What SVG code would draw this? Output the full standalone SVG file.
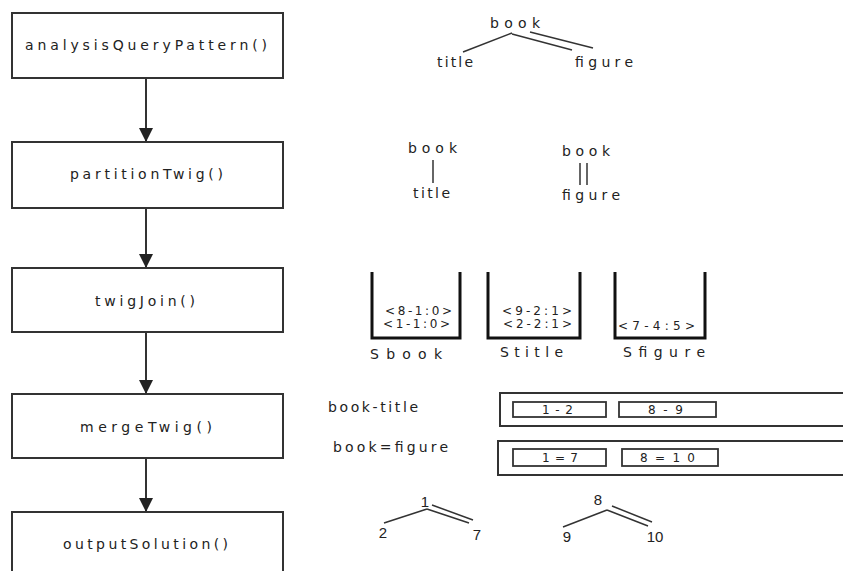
<svg xmlns="http://www.w3.org/2000/svg" width="843" height="571" viewBox="0 0 843 571">
<style>
.box{fill:#fff;stroke:#333;stroke-width:2}
.t{font-family:"DejaVu Sans","Liberation Sans",Arial,sans-serif;font-size:14px;fill:#222;text-anchor:start}
.n{font-family:"Liberation Sans",Arial,sans-serif;font-size:15px;fill:#222;text-anchor:middle}
.s{font-family:"DejaVu Sans","Liberation Sans",Arial,sans-serif;font-size:12px;fill:#222;text-anchor:start}
.ln{stroke:#333;stroke-width:1.5;fill:none}
.stk{stroke:#111;stroke-width:3;fill:none}
.conn{stroke:#333;stroke-width:2;fill:none}
.list{fill:none;stroke:#333;stroke-width:2}
.cell{fill:#fff;stroke:#333;stroke-width:1.8}
</style>
<defs>
<marker id="arr" markerUnits="userSpaceOnUse" markerWidth="16" markerHeight="16" viewBox="0 0 16 16" refX="15" refY="8" orient="auto">
<path d="M1,1 L15,8 L1,15 Z" fill="#222"/>
</marker>
</defs>
<rect width="843" height="571" fill="#fff"/>
<g id="connectors">
<line class="conn" x1="146" y1="78" x2="146" y2="142" marker-end="url(#arr)"/>
<line class="conn" x1="146" y1="208" x2="146" y2="268" marker-end="url(#arr)"/>
<line class="conn" x1="146" y1="332" x2="146" y2="394" marker-end="url(#arr)"/>
<line class="conn" x1="146" y1="458" x2="146" y2="512" marker-end="url(#arr)"/>
</g>
<g id="n1"><rect class="box" x="12" y="13" width="271" height="65"/><text class="t" x="25" y="50" textLength="242" lengthAdjust="spacing">analysisQueryPattern()</text></g>
<g id="n2"><rect class="box" x="12" y="142" width="271" height="66"/><text class="t" x="70" y="179" textLength="153" lengthAdjust="spacing">partitionTwig()</text></g>
<g id="n3"><rect class="box" x="12" y="268" width="271" height="64"/><text class="t" x="95" y="306" textLength="100" lengthAdjust="spacing">twigJoin()</text></g>
<g id="n4"><rect class="box" x="12" y="394" width="271" height="64"/><text class="t" x="80" y="432" textLength="132" lengthAdjust="spacing">mergeTwig()</text></g>
<g id="n5"><rect class="box" x="12" y="512" width="271" height="80"/><text class="t" x="63" y="549" textLength="165" lengthAdjust="spacing">outputSolution()</text></g>

<g id="query-tree">
<text class="t" x="490" y="28" textLength="50" lengthAdjust="spacing">book</text>
<text class="t" x="437" y="67" textLength="36" lengthAdjust="spacing">title</text>
<text class="t" x="575" y="67" textLength="58" lengthAdjust="spacing">figure</text>
<line class="ln" x1="512" y1="33" x2="463" y2="52"/>
<line class="ln" x1="512" y1="34" x2="572" y2="50"/>
<line class="ln" x1="530" y1="32" x2="593" y2="48"/>
</g>

<g id="partition">
<text class="t" x="408" y="153" textLength="49" lengthAdjust="spacing">book</text>
<line class="ln" x1="433" y1="160" x2="433" y2="183"/>
<text class="t" x="413" y="198" textLength="37" lengthAdjust="spacing">title</text>
<text class="t" x="562" y="156" textLength="48" lengthAdjust="spacing">book</text>
<line class="ln" x1="580" y1="163" x2="580" y2="185"/>
<line class="ln" x1="587" y1="163" x2="587" y2="185"/>
<text class="t" x="562" y="200" textLength="58" lengthAdjust="spacing">figure</text>
</g>

<g id="stacks">
<path class="stk" d="M372,272 V338 H460 V272"/>
<path class="stk" d="M488,272 V338 H580 V272"/>
<path class="stk" d="M615,272 V338 H705 V272"/>
<text class="s" x="385" y="315" textLength="67" lengthAdjust="spacing">&lt;8-1:0&gt;</text>
<text class="s" x="383" y="328" textLength="67" lengthAdjust="spacing">&lt;1-1:0&gt;</text>
<text class="s" x="502" y="315" textLength="70" lengthAdjust="spacing">&lt;9-2:1&gt;</text>
<text class="s" x="503" y="328" textLength="69" lengthAdjust="spacing">&lt;2-2:1&gt;</text>
<text class="s" x="618" y="330" textLength="77" lengthAdjust="spacing">&lt;7-4:5&gt;</text>
<text class="t" x="370" y="359" textLength="72" lengthAdjust="spacing">Sbook</text>
<text class="t" x="500" y="357" textLength="63" lengthAdjust="spacing">Stitle</text>
<text class="t" x="623" y="357" textLength="82" lengthAdjust="spacing">Sfigure</text>
</g>

<g id="lists">
<text class="t" x="328" y="412" textLength="90" lengthAdjust="spacing">book-title</text>
<rect class="list" x="500" y="393" width="360" height="33"/>
<rect class="cell" x="513" y="402" width="93" height="15"/>
<rect class="cell" x="619" y="402" width="97" height="15"/>
<text class="s" x="542" y="414" textLength="31" lengthAdjust="spacing">1-2</text>
<text class="s" x="648" y="414" textLength="35" lengthAdjust="spacing">8-9</text>
<text class="t" x="333" y="452" textLength="115" lengthAdjust="spacing">book=figure</text>
<rect class="list" x="498" y="441" width="362" height="34"/>
<rect class="cell" x="513" y="449" width="93" height="17"/>
<rect class="cell" x="622" y="449" width="96" height="17"/>
<text class="s" x="542" y="462" textLength="36" lengthAdjust="spacing">1=7</text>
<text class="s" x="640" y="462" textLength="55" lengthAdjust="spacing">8=10</text>
</g>

<g id="result-trees">
<text class="n" x="425" y="507">1</text>
<text class="n" x="383" y="538">2</text>
<text class="n" x="477" y="540">7</text>
<line class="ln" x1="427" y1="509" x2="384" y2="523"/>
<line class="ln" x1="427" y1="509" x2="469" y2="523"/>
<line class="ln" x1="432" y1="505" x2="473" y2="520"/>
<text class="n" x="598" y="505">8</text>
<text class="n" x="567" y="542">9</text>
<text class="n" x="655" y="542">10</text>
<line class="ln" x1="607" y1="510" x2="563" y2="527"/>
<line class="ln" x1="607" y1="510" x2="648" y2="526"/>
<line class="ln" x1="612" y1="506" x2="652" y2="522"/>
</g>
</svg>
